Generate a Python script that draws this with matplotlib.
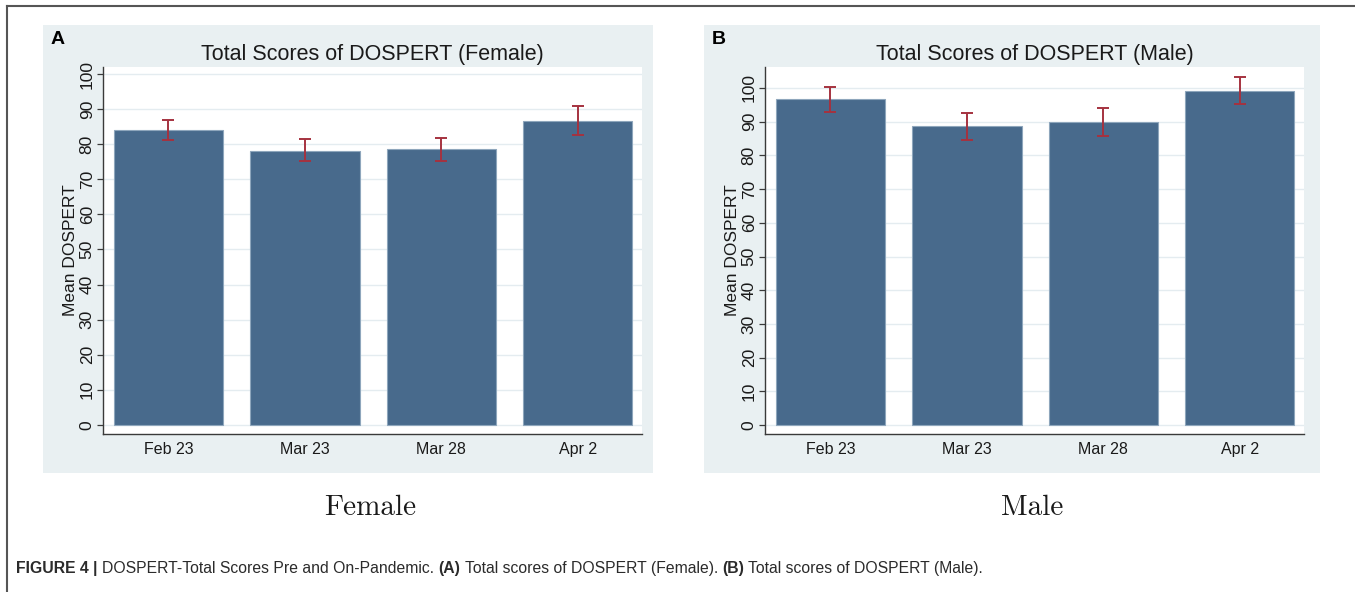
import matplotlib
matplotlib.use("Agg")
import matplotlib.pyplot as plt
import numpy as np
from matplotlib.patches import Rectangle
from matplotlib.lines import Line2D

# Survey dates and mean DOSPERT totals with 95% CI bounds
dates = ["Feb 23", "Mar 23", "Mar 28", "Apr 2"]

female_mean = [84.0, 78.2, 78.5, 86.7]
female_lo = [81.2, 75.1, 75.1, 82.7]
female_hi = [86.9, 81.4, 81.8, 90.8]

male_mean = [96.6, 88.6, 89.8, 99.1]
male_lo = [93.0, 84.7, 85.6, 95.1]
male_hi = [100.3, 92.6, 94.0, 103.3]

yticks = list(range(0, 101, 10))

W, H = 1355, 592
plt.rcParams["font.family"] = ["Liberation Sans", "DejaVu Sans"]
fig = plt.figure(figsize=(W / 100, H / 100), dpi=100)
fig.patch.set_facecolor("white")

BAR = "#486a8c"
BAR_EDGE = "#8ea6bc"
ERR = "#a5323f"
PANEL_BG = "#e9f0f2"
GRID = "#e4ecf0"
AXIS = "#3a3a3a"


def px(x0, y0, x1, y1):
    """Pixel box (left, top, right, bottom) -> figure fraction rect."""
    return [x0 / W, 1 - y1 / H, (x1 - x0) / W, (y1 - y0) / H]


def panel(bg_box, ax_box, letter, title, means, lo, hi, ymax, label_x, sub):
    l, b, w, h = px(*bg_box)
    fig.add_artist(Rectangle((l, b), w, h, transform=fig.transFigure,
                             facecolor=PANEL_BG, edgecolor="none", zorder=-5))
    ax = fig.add_axes(px(*ax_box))
    ax.set_facecolor("white")
    x = np.arange(len(dates))
    means = np.array(means)
    ax.bar(x, means, width=0.80, color=BAR, edgecolor=BAR_EDGE,
           linewidth=0.8, zorder=2)
    ax.errorbar(x, means, yerr=[means - np.array(lo), np.array(hi) - means],
                fmt="none", ecolor=ERR, elinewidth=1.4, capsize=4.2,
                capthick=1.4, zorder=3)
    ax.set_xlim(-0.48, 3.47)
    ax.set_ylim(-2.6, ymax)
    ax.set_xticks(x)
    ax.set_xticklabels(dates, fontsize=11.5, color="#1a1a1a")
    ax.set_yticks(yticks)
    ax.set_yticklabels([str(v) for v in yticks], fontsize=12.5,
                       rotation=90, va="center", color="#1a1a1a")
    ax.tick_params(axis="x", length=0, pad=6)
    ax.tick_params(axis="y", length=4, width=0.9, color=AXIS, pad=2)
    ax.yaxis.grid(True, color=GRID, linewidth=1.0, zorder=0)
    ax.set_axisbelow(True)
    for s in ("top", "right"):
        ax.spines[s].set_visible(False)
    for s in ("left", "bottom"):
        ax.spines[s].set_color(AXIS)
        ax.spines[s].set_linewidth(1.0)
    ax.set_ylabel("Mean DOSPERT", fontsize=12.5, color="#1a1a1a", labelpad=1)
    ax.set_title(title, fontsize=15.5, color="#1a1a1a", pad=5)
    fig.text((bg_box[0] + 8) / W, 1 - 39 / H, letter, fontsize=14,
             fontweight="bold", va="center", ha="left", color="black")
    fig.text(label_x / W, 1 - 508 / H, sub, family="cmr10", fontsize=21,
             ha="center", va="center", color="#1a1a1a")
    return ax


panel((43, 25, 653, 473), (103, 67, 642, 434), "A",
      "Total Scores of DOSPERT (Female)", female_mean, female_lo, female_hi,
      102.0, 370, "Female")
panel((704, 25, 1320, 473), (765, 67, 1304, 434), "B",
      "Total Scores of DOSPERT (Male)", male_mean, male_lo, male_hi,
      106.2, 1032, "Male")

# Outer frame: top rule and left rule
fig.add_artist(Line2D([7 / W, 1.0], [1 - 6 / H, 1 - 6 / H],
                      transform=fig.transFigure, color="#555555", lw=1.5))
fig.add_artist(Line2D([7 / W, 7 / W], [0.0, 1 - 6 / H],
                      transform=fig.transFigure, color="#555555", lw=1.5))

# Caption built from bold and regular runs on a shared baseline
cap_family = ["Liberation Sans", "DejaVu Sans"]
cap_size = 11.35
runs = [("FIGURE 4", "bold"), ("|", "bold"),
        ("DOSPERT-Total Scores Pre and On-Pandemic.", "normal"),
        ("(A)", "bold"), ("Total scores of DOSPERT (Female).", "normal"),
        ("(B)", "bold"), ("Total scores of DOSPERT (Male).", "normal")]
renderer = fig.canvas.get_renderer()
probe1 = fig.text(0, 0, "a a", family=cap_family, fontsize=cap_size)
probe2 = fig.text(0, 0, "aa", family=cap_family, fontsize=cap_size)
space = (probe1.get_window_extent(renderer).width
         - probe2.get_window_extent(renderer).width)
probe1.remove()
probe2.remove()
xpos = 16.0
ycap = 1 - 573 / H
for txt, wt in runs:
    t = fig.text(xpos / W, ycap, txt, family=cap_family, fontsize=cap_size,
                 fontweight=wt, va="baseline", ha="left", color="#2b2b2b")
    xpos += t.get_window_extent(renderer).width + space

fig.savefig("out.png", dpi=100, facecolor="white")
